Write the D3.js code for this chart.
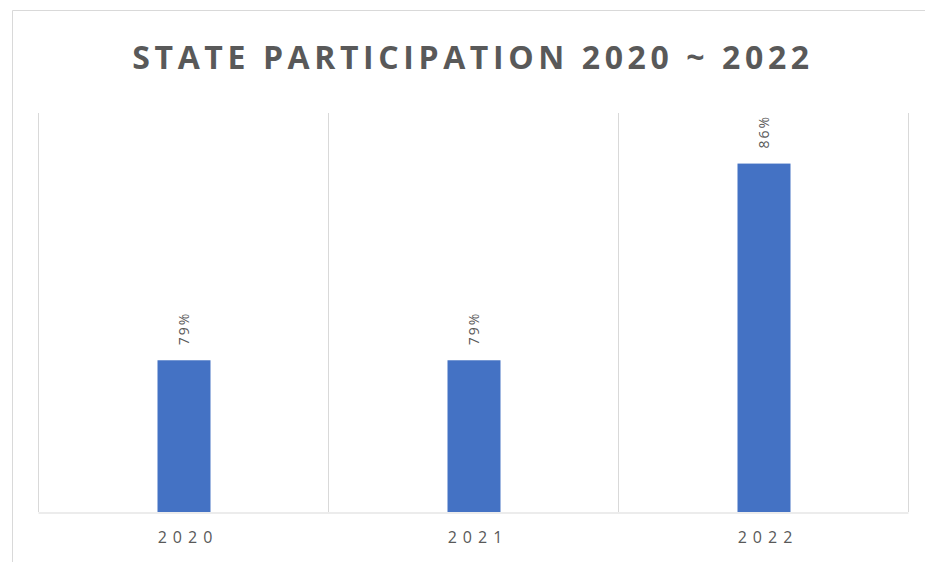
<!DOCTYPE html>
<html>
<head>
<meta charset="utf-8">
<script src="https://cdn.jsdelivr.net/npm/d3@7"></script>
<style>
  body { margin: 0; background: #fff; }
  svg text { font-family: "Open Sans", "Liberation Sans", sans-serif; fill: #595959; }
</style>
</head>
<body>
<div id="chart"></div>
<script>
const years = ["2020", "2021", "2022"];
const participation = [0.79, 0.79, 0.86];
const titleText = "STATE PARTICIPATION 2020 ~ 2022";

const width = 925, height = 562;
const plot = { left: 38, right: 908, top: 113, bottom: 512 };

const svg = d3.select("#chart").append("svg").attr("width", width).attr("height", height);

// chart frame (only left + top visible in the screenshot)
svg.append("path")
  .attr("d", `M12.5,${height} V10.5 H${width}`)
  .attr("fill", "none").attr("stroke", "#d9d9d9");

const x = d3.scaleBand().domain(years).range([plot.left, plot.right]).paddingInner(0).paddingOuter(0);
const y = d3.scaleLinear().domain([0.736, 0.878]).range([plot.bottom, plot.top]);

// vertical gridlines at the category edges
const edges = years.map(d => x(d)).concat([plot.right]);
svg.append("g").selectAll("line").data(edges).enter().append("line")
  .attr("x1", d => Math.round(d) + 0.5).attr("x2", d => Math.round(d) + 0.5)
  .attr("y1", plot.top).attr("y2", plot.bottom)
  .attr("stroke", "#d9d9d9");

const barW = 53;
svg.append("g").selectAll("rect").data(years).enter().append("rect")
  .attr("x", d => x(d) + x.bandwidth() / 2 - barW / 2 + 1)
  .attr("y", (d, i) => y(participation[i]))
  .attr("width", barW)
  .attr("height", (d, i) => plot.bottom - y(participation[i]))
  .attr("fill", "#4472c4");

// x axis
const xAxis = d3.axisBottom(x).tickSize(0).tickPadding(19);
const gx = svg.append("g").attr("transform", `translate(0,${plot.bottom + 0.5})`).call(xAxis);
gx.select(".domain").attr("stroke", "#d9d9d9");
gx.selectAll("text").attr("font-size", 16).attr("letter-spacing", "6px").attr("dx", 5)
  .attr("fill", "#595959")
  .style("font-family", "'Open Sans', sans-serif");

// rotated value labels, reading bottom to top
svg.append("g").selectAll("text").data(years).enter().append("text")
  .attr("transform", (d, i) => `translate(${x(d) + x.bandwidth() / 2 + 6},${y(participation[i]) - 15}) rotate(-90)`)
  .attr("text-anchor", "start")
  .attr("font-size", 14)
  .attr("letter-spacing", "2px")
  .text((d, i) => d3.format(".0%")(participation[i]));

// title
svg.append("text")
  .attr("x", 473).attr("y", 69)
  .attr("text-anchor", "middle")
  .attr("font-size", 32).attr("font-weight", "bold")
  .attr("letter-spacing", "4.6px")
  .text(titleText);
</script>
</body>
</html>
